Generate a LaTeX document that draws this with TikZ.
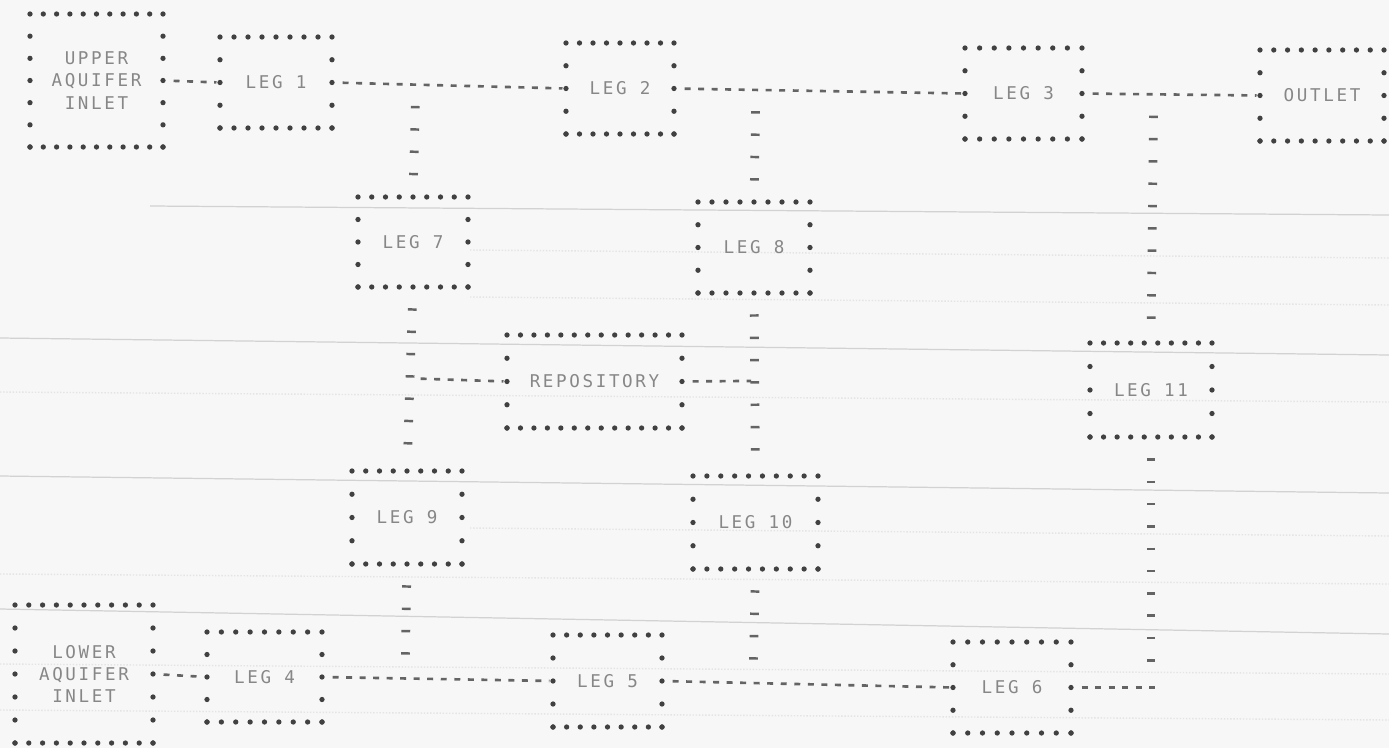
\documentclass[tikz,border=0pt]{standalone}
\usepackage{fontspec}
\newfontfamily\lpfont[LetterSpace=15]{DejaVu Sans Mono}
\usetikzlibrary{calc}
\definecolor{paper}{RGB}{247,247,247}
\definecolor{dotgray}{RGB}{65,65,65}
\definecolor{textgray}{RGB}{135,135,135}
\definecolor{linkgray}{RGB}{100,100,100}
\definecolor{scangray}{RGB}{210,210,210}
\definecolor{scanfaint}{RGB}{228,228,228}
\newcommand{\pxlen}{0.02cm}
\tikzset{
  boxtext/.style={inner sep=0pt, outer sep=0pt, text=textgray, align=center,
    font=\lpfont\fontsize{10pt}{12.65pt}\selectfont},
  dot/.style={fill=dotgray},
  hlink/.style={draw=linkgray, line width=1.5pt, dash pattern=on 3.4pt off 4.3pt, dash phase=3.7pt,
    shorten <=2pt, shorten >=2pt},
  vlink/.style={draw=linkgray, line width=5pt, dash pattern=on 1.4pt off 11.3pt, dash phase=3.6pt,
    shorten <=3pt, shorten >=6pt},
  scanline/.style={draw=scangray, line width=0.7pt},
  faintline/.style={draw=scanfaint, line width=0.8pt, densely dotted},
}
% #1 name, (#2,#3) centre, #4 x #5 size in px, #6/#7 dot gaps across/down, #8 text
\newcommand{\dotbox}[8]{%
  \node[boxtext, minimum width=#4*\pxlen, minimum height=#5*\pxlen] (#1) at (#2,#3) {#8};
  \foreach \i in {0,...,#6}{
    \fill[dot] ($(#1.north west)!\i/#6!(#1.north east)$) circle[radius=1.5pt];
    \fill[dot] ($(#1.south west)!\i/#6!(#1.south east)$) circle[radius=1.5pt];
  }
  \foreach \j in {1,...,#7}{
    \fill[dot] ($(#1.north west)!\j/#7!(#1.south west)$) circle[radius=1.5pt];
    \fill[dot] ($(#1.north east)!\j/#7!(#1.south east)$) circle[radius=1.5pt];
  }
}

\begin{document}
\begin{tikzpicture}[x=0.02cm,y=-0.02cm]
  \path[use as bounding box, fill=paper] (0,0) rectangle (1389,748);
  % ruled lines of the scanned sheet
  \draw[scanline] (150,206) -- (1389,215);
  \draw[scanline] (0,338) -- (1389,355);
  \draw[scanline] (0,476) -- (1389,493);
  \draw[scanline] (0,609) -- (1389,634);
  \draw[faintline] (470,250) -- (1389,258);
  \draw[faintline] (470,297) -- (1389,305);
  \draw[faintline] (0,392) -- (1389,402);
  \draw[faintline] (470,528) -- (1389,536);
  \draw[faintline] (0,574) -- (1389,584);
  \draw[faintline] (0,664) -- (1389,674);
  \draw[faintline] (0,710) -- (1389,720);

  % upper row
  \dotbox{upin}{96.5}{80.5}{133}{133}{10}{6}{UPPER\\AQUIFER\\INLET}
  \dotbox{leg1}{276}{82.5}{112}{91}{8}{4}{LEG 1}
  \dotbox{leg2}{620}{88.5}{108}{91}{8}{4}{LEG 2}
  \dotbox{leg3}{1023.5}{93.5}{117}{91}{8}{4}{LEG 3}
  \dotbox{outlet}{1322}{95.5}{124}{91}{9}{4}{OUTLET}
  % middle
  \dotbox{leg7}{413}{242}{110}{90}{8}{4}{LEG 7}
  \dotbox{leg8}{754}{247.5}{112}{91}{8}{4}{LEG 8}
  \dotbox{repo}{594.5}{381.5}{175}{93}{13}{4}{REPOSITORY}
  \dotbox{leg11}{1151}{390}{122}{94}{9}{4}{LEG 11}
  \dotbox{leg9}{407}{517.5}{110}{93}{8}{4}{LEG 9}
  \dotbox{leg10}{755.5}{522.5}{125}{93}{9}{4}{LEG 10}
  % lower row
  \dotbox{loin}{84}{674}{138}{138}{10}{6}{LOWER\\AQUIFER\\INLET}
  \dotbox{leg4}{264.5}{677}{115}{90}{8}{4}{LEG 4}
  \dotbox{leg5}{607.5}{681}{109}{92}{8}{4}{LEG 5}
  \dotbox{leg6}{1012}{687.5}{118}{91}{8}{4}{LEG 6}

  % junctions on the long runs
  \coordinate (j7) at ($(leg1.east)!(leg7.north)!(leg2.west)$);
  \coordinate (j8) at ($(leg2.east)!(leg8.north)!(leg3.west)$);
  \coordinate (j11) at ($(leg3.east)!(leg11.north)!(outlet.west)$);
  \coordinate (j9) at ($(leg4.east)!(leg9.south)!(leg5.west)$);
  \coordinate (j10) at ($(leg5.east)!(leg10.south)!(leg6.west)$);
  \coordinate (jr) at ($(leg7.south)!(repo.west)!(leg9.north)$);
  \coordinate (jl) at ($(leg8.south)!(repo.east)!(leg10.north)$);
  \coordinate (c6) at (leg11.south |- leg6.east);

  \draw[hlink] (upin.east) -- (leg1.west);
  \draw[hlink] (leg1.east) -- (leg2.west);
  \draw[hlink] (leg2.east) -- (leg3.west);
  \draw[hlink] (leg3.east) -- (outlet.west);
  \draw[hlink] (loin.east) -- (leg4.west);
  \draw[hlink] (leg4.east) -- (leg5.west);
  \draw[hlink] (leg5.east) -- (leg6.west);
  \draw[hlink] (jr) -- (repo.west);
  \draw[hlink] (repo.east) -- (jl);
  \draw[hlink, shorten >=-3pt] (leg6.east) -- (c6);

  \draw[vlink] (j7) -- (leg7.north);
  \draw[vlink] (j8) -- (leg8.north);
  \draw[vlink] (j11) -- (leg11.north);
  \draw[vlink] (leg7.south) -- (leg9.north);
  \draw[vlink] (leg8.south) -- (leg10.north);
  \draw[vlink] (leg9.south) -- (j9);
  \draw[vlink] (leg10.south) -- (j10);
  \draw[vlink] (leg11.south) -- (c6);
\end{tikzpicture}
\end{document}
